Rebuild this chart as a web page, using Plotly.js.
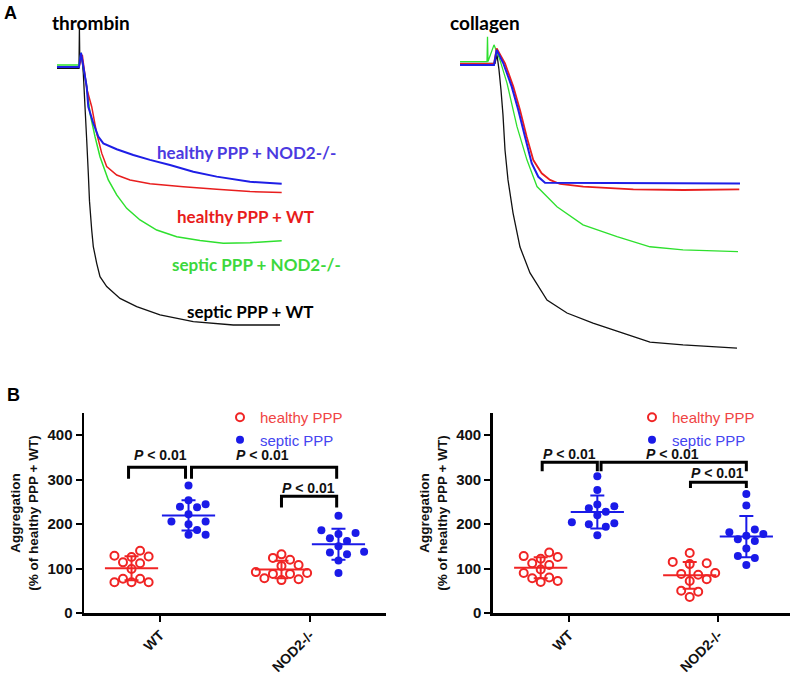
<!DOCTYPE html>
<html><head><meta charset="utf-8">
<script src="https://cdn.plot.ly/plotly-3.0.1.min.js"></script>
<style>html,body{margin:0;padding:0;background:#fff}#chart{width:800px;height:674px}</style>
</head><body><div id="chart"></div>
<script>
// ---------- Panel A: aggregation traces (time in s, aggregation in %) ----------
// thrombin
const thrBlackT = [0, 22, 22.4, 22.8, 24.7, 26.3, 28, 29.7, 31.3, 32.5, 34.7, 36.3, 39.7, 43, 49.7, 63, 79.7, 103, 136.3, 176.3, 223];
const thrBlackA = [0.5, 0.5, -15, -3, -4.7, 2.4, 15.4, 28.3, 41.2, 52, 63.2, 69.6, 76.1, 81.3, 85.1, 89.7, 92.9, 96.1, 98.7, 100, 100];
const thrGreenT = [0, 22, 24, 29.7, 33, 38, 43, 51.3, 59.7, 69.7, 83, 99.7, 119.7, 143, 166.3, 193, 224.7];
const thrGreenA = [-0.8, -0.8, -5.5, 7.6, 18, 27, 34.8, 43.8, 49.6, 54.8, 59.3, 63.2, 65.8, 67.3, 68.3, 68.1, 67.4];
const thrRedT = [0, 22, 25.3, 29.7, 34.7, 39.7, 44.7, 49.7, 59.7, 73, 93, 126.3, 159.7, 193, 224.7];
const thrRedA = [0, 0, -4.7, 8.3, 15.4, 25.7, 33.4, 38.6, 41.9, 43.8, 45.3, 46.4, 47.4, 48.3, 48.7];
const thrBlueT = [0, 22, 24, 29.7, 31.3, 36.3, 41.3, 46.3, 59.7, 76.3, 93, 113, 136.3, 159.7, 193, 224.7];
const thrBlueA = [0, 0, -5.5, 7.6, 15.4, 21.8, 27, 29.6, 31.9, 34.1, 36, 38, 40.6, 42.5, 44.5, 45.3];
// collagen
const colBlackT = [0, 35, 37, 39, 41, 43, 45, 48, 53, 60, 70, 87, 107, 133, 163, 190, 223, 277];
const colBlackA = [0, 0, -2.9, 2.3, 9.3, 18, 30.1, 40.5, 51.9, 63.8, 72.8, 82.2, 86.7, 90.2, 93.7, 96.8, 97.8, 98.9];
const colGreenT = [0, 27, 27.5, 28, 34, 40, 47, 57, 67, 77, 97, 123, 157, 190, 223, 278];
const colGreenA = [-0.6, -0.6, -9.2, -0.6, -6.4, -1.1, 6.9, 22, 33.6, 42.8, 49.8, 56.1, 60.2, 63.7, 64.8, 65.4];
const colBlueT = [0, 34, 36.7, 43.3, 51.7, 58.3, 65, 71.7, 78.3, 85, 280];
const colBlueA = [0.6, 0.6, -4.6, 0, 8.1, 16.2, 25.5, 34.7, 39.4, 41.5, 41.7];
const colRedT = [0, 34, 36.7, 45, 53.3, 60, 66.7, 73.3, 81.7, 90, 100, 123.3, 173.3, 223.3, 279.3];
const colRedA = [0.2, 0.2, -5.2, 0, 8.1, 16.2, 25.5, 33.6, 38.2, 40.5, 41.9, 42.8, 43.8, 44, 43.8];

const traceLabels = ['healthy PPP + NOD2-/-', 'healthy PPP + WT', 'septic PPP + NOD2-/-', 'septic PPP + WT'];

// ---------- Panel B: aggregation (% of healthy PPP + WT) ----------
const categories = ['WT', 'NOD2-/-'];
const thrHealthyWT  = [140, 129, 126, 127, 112, 114, 99, 77, 69, 69, 69, 77];
const thrSepticWT   = [287, 254, 245, 239, 238, 222, 206, 206, 200, 187, 176, 176];
const thrHealthyNOD = [132, 124, 120, 108, 106, 92, 90, 88, 88, 78, 74, 76];
const thrSepticNOD  = [219, 186, 180, 178, 168, 162, 150, 138, 136, 132, 118, 90];
const colHealthyWT  = [136, 128, 126, 122, 112, 108, 98, 90, 80, 78, 70, 72];
const colSepticWT   = [308, 277, 244, 240, 236, 228, 220, 204, 202, 200, 194, 175];
const colHealthyNOD = [135, 115, 112, 110, 90, 88, 86, 76, 72, 50, 48, 36];
const colSepticNOD  = [268, 242, 188, 182, 178, 174, 166, 162, 145, 128, 124, 108];
const yTicks = [0, 100, 200, 300, 400];
const pLabel = '<i>P</i> < 0.01';

// ---------- styles ----------
const C = {blue:'#1e1ee6', red:'#e81e1e', green:'#2ee02e', black:'#111111',
           blueTxt:'#4b3ae0', redTxt:'#e81c1c', greenTxt:'#3cd83c',
           ptRed:'#f02424', ptBlue:'#1a1ae8'};
const F = 'Liberation Sans, Arial, sans-serif';
const FT = 'Lato, sans-serif';
const OFF = 0.19;               // group offset from category centre
const PXX = 150, PXY = 0.443;   // approximate px per data unit (for point spreading)

function lineTrace(x, y, color, w, xa, ya) {
  return {type:'scatter', mode:'lines', x:x, y:y, xaxis:xa, yaxis:ya, showlegend:false,
          line:{color:color, width:w, simplify:false}, hoverinfo:'skip'};
}

function swarm(vals, center, diam) {
  const idx = vals.map((v, i) => i).sort((a, b) => vals[a] - vals[b]);
  const placed = [], xs = new Array(vals.length);
  idx.forEach(i => {
    const v = vals[i];
    for (let k = 0; k < 30; k++) {
      const step = k === 0 ? 0 : (k % 2 ? Math.ceil(k / 2) : -Math.ceil(k / 2));
      const ox = step * diam * 0.95;
      const ok = placed.every(p => Math.hypot(p.ox - ox, (p.v - v) * PXY) >= diam);
      if (ok) { placed.push({ox, v}); xs[i] = center + ox / PXX; break; }
    }
  });
  return xs;
}
const mean = a => a.reduce((s, v) => s + v, 0) / a.length;
const sd = a => { const m = mean(a); return Math.sqrt(a.reduce((s, v) => s + (v - m) ** 2, 0) / (a.length - 1)); };

function groupTraces(hWT, sWT, hNOD, sNOD, xa, ya, leg) {
  const hx = swarm(hWT, 0 - OFF, 9).concat(swarm(hNOD, 1 - OFF, 9));
  const sx = swarm(sWT, 0 + OFF, 9).concat(swarm(sNOD, 1 + OFF, 9));
  const out = [];
  out.push({type:'scatter', mode:'markers', x:hx, y:hWT.concat(hNOD), xaxis:xa, yaxis:ya,
    name:'<span style="color:#f04444">healthy PPP</span>', legend:leg,
    marker:{symbol:'circle-open', size:8, color:C.ptRed, line:{width:2, color:C.ptRed}}});
  out.push({type:'scatter', mode:'markers', x:sx, y:sWT.concat(sNOD), xaxis:xa, yaxis:ya,
    name:'<span style="color:#4444f0">septic PPP</span>', legend:leg,
    marker:{symbol:'circle', size:8, color:C.ptBlue}});
  [[hWT, 0 - OFF, C.ptRed], [hNOD, 1 - OFF, C.ptRed], [sWT, 0 + OFF, C.ptBlue], [sNOD, 1 + OFF, C.ptBlue]].forEach(g => {
    out.push({type:'scatter', mode:'markers', x:[g[1]], y:[mean(g[0])], xaxis:xa, yaxis:ya, showlegend:false,
      marker:{symbol:'line-ew', size:38, color:g[2], line:{width:2, color:g[2]}},
      error_y:{type:'data', array:[sd(g[0])], color:g[2], thickness:2, width:7}});
  });
  return out;
}

const data = [
  lineTrace(thrBlackT, thrBlackA, C.black, 1.3, 'x', 'y'),
  lineTrace(thrGreenT, thrGreenA, C.green, 1.5, 'x', 'y'),
  lineTrace(thrRedT, thrRedA, C.red, 1.5, 'x', 'y'),
  lineTrace(thrBlueT, thrBlueA, C.blue, 2, 'x', 'y'),
  lineTrace(colBlackT, colBlackA, C.black, 1.3, 'x2', 'y2'),
  lineTrace(colGreenT, colGreenA, C.green, 1.3, 'x2', 'y2'),
  lineTrace(colRedT, colRedA, C.red, 1.8, 'x2', 'y2'),
  lineTrace(colBlueT, colBlueA, C.blue, 2, 'x2', 'y2'),
].concat(groupTraces(thrHealthyWT, thrSepticWT, thrHealthyNOD, thrSepticNOD, 'x3', 'y3', 'legend'))
 .concat(groupTraces(colHealthyWT, colSepticWT, colHealthyNOD, colSepticNOD, 'x4', 'y4', 'legend2'));

const hidden = {visible:false, showgrid:false, zeroline:false, fixedrange:true};
function bx(dom, anchor) {
  return {domain:dom, anchor:anchor, range:[-0.507, 1.507], tickvals:[0, 1], ticktext:categories, tickangle:-45,
    ticks:'outside', ticklen:6, tickwidth:2, tickcolor:'#000', showline:true, linewidth:2.5, linecolor:'#000',
    showgrid:false, zeroline:false, automargin:false, tickfont:{family:F, size:14, weight:'bold', color:'#111'}};
}
function by(anchor) {
  return {domain:[0.0905, 0.3872], anchor:anchor, range:[0, 450], tickvals:yTicks,
    ticks:'outside', ticklen:6, tickwidth:2, tickcolor:'#000', showline:true, linewidth:2.5, linecolor:'#000',
    showgrid:false, zeroline:false, automargin:false, tickfont:{family:F, size:15, weight:'bold', color:'#111'},
    title:{text:'Aggregation<br>(% of healthy PPP + WT)', font:{family:F, size:13.5, weight:'bold', color:'#111'}, standoff:6}};
}
function bracket(xa, ya, x0, x1, yTop, yL, yR) {
  return {type:'path', xref:xa, yref:ya, path:`M ${x0},${yL} L ${x0},${yTop} L ${x1},${yTop} L ${x1},${yR}`,
          line:{color:'#000', width:3}};
}
function pAnn(xa, ya, x, y) {
  return {xref:xa, yref:ya, x:x, y:y, text:pLabel, showarrow:false, xanchor:'center', yanchor:'middle',
          font:{family:F, size:14, weight:'bold', color:'#111'}};
}
function tAnn(xa, ya, x, y, text, color) {
  return {xref:xa, yref:ya, x:x, y:y, text:text, showarrow:false, xanchor:'left', yanchor:'middle',
          font:{family:FT, size:17, weight:'bold', color:color}};
}
function pAnnP(x, y, text, size, fam) {
  return {xref:'paper', yref:'paper', x:x, y:y, text:text, showarrow:false, xanchor:'left', yanchor:'middle',
          font:{family:fam, size:size, weight:'bold', color:'#000'}};
}

const layout = {
  width:800, height:674, margin:{l:0, r:0, t:0, b:0}, paper_bgcolor:'#fff', plot_bgcolor:'rgba(0,0,0,0)',
  xaxis: Object.assign({domain:[0.065, 0.365], range:[-5, 235], anchor:'y'}, hidden),
  yaxis: Object.assign({domain:[0.4987, 0.9772], range:[105, -20], anchor:'x'}, hidden),
  xaxis2: Object.assign({domain:[0.56875, 0.93125], range:[-5, 285], anchor:'y2'}, hidden),
  yaxis2: Object.assign({domain:[0.4574, 0.9702], range:[105, -15], anchor:'x2'}, hidden),
  xaxis3: bx([0.105, 0.4825], 'y3'),
  yaxis3: by('x3'),
  xaxis4: Object.assign(bx([0.6159, 0.9875], 'y4'), {range:[-0.512, 1.483]}),
  yaxis4: by('x4'),
  legend: {x:0.275, y:1 - 401/674, xanchor:'left', yanchor:'top', bgcolor:'rgba(0,0,0,0)', borderwidth:0,
           font:{family:F, size:15}, tracegroupgap:0},
  legend2: {x:0.79, y:1 - 401/674, xanchor:'left', yanchor:'top', bgcolor:'rgba(0,0,0,0)', borderwidth:0,
           font:{family:F, size:15}, tracegroupgap:0},
  shapes: [
    bracket('x3', 'y3', -0.21, 0.17, 328, 302, 302),
    bracket('x3', 'y3', 0.21, 1.178, 328, 302, 302),
    bracket('x3', 'y3', 0.81, 1.178, 262.5, 237.6, 237.6),
    bracket('x4', 'y4', -0.18, 0.19, 339, 319, 319),
    bracket('x4', 'y4', 0.215, 1.19, 339, 319, 319),
    bracket('x4', 'y4', 0.815, 1.19, 294, 281.5, 281.5),
  ],
  annotations: [
    pAnn('x3', 'y3', 0.0, 355), pAnn('x3', 'y3', 0.685, 355), pAnn('x3', 'y3', 0.993, 281.5),
    pAnn('x4', 'y4', 0.005, 358), pAnn('x4', 'y4', 0.695, 358), pAnn('x4', 'y4', 0.997, 315),
    tAnn('x', 'y', 98, 33.3, traceLabels[0], C.blueTxt),
    tAnn('x', 'y', 118, 58, traceLabels[1], C.redTxt),
    tAnn('x', 'y', 113, 76.4, traceLabels[2], C.greenTxt),
    tAnn('x', 'y', 128, 94.6, traceLabels[3], '#000'),
    pAnnP(0.0625, 1 - 22/674, 'thrombin', 19, FT),
    pAnnP(0.56, 1 - 22/674, 'collagen', 19, FT),
    pAnnP(0.002, 1 - 13/674, 'A', 18, F),
    pAnnP(0.006, 1 - 395/674, 'B', 18, F),
  ]
};
Plotly.newPlot('chart', data, layout, {staticPlot:true, displayModeBar:false});
</script></body></html>
